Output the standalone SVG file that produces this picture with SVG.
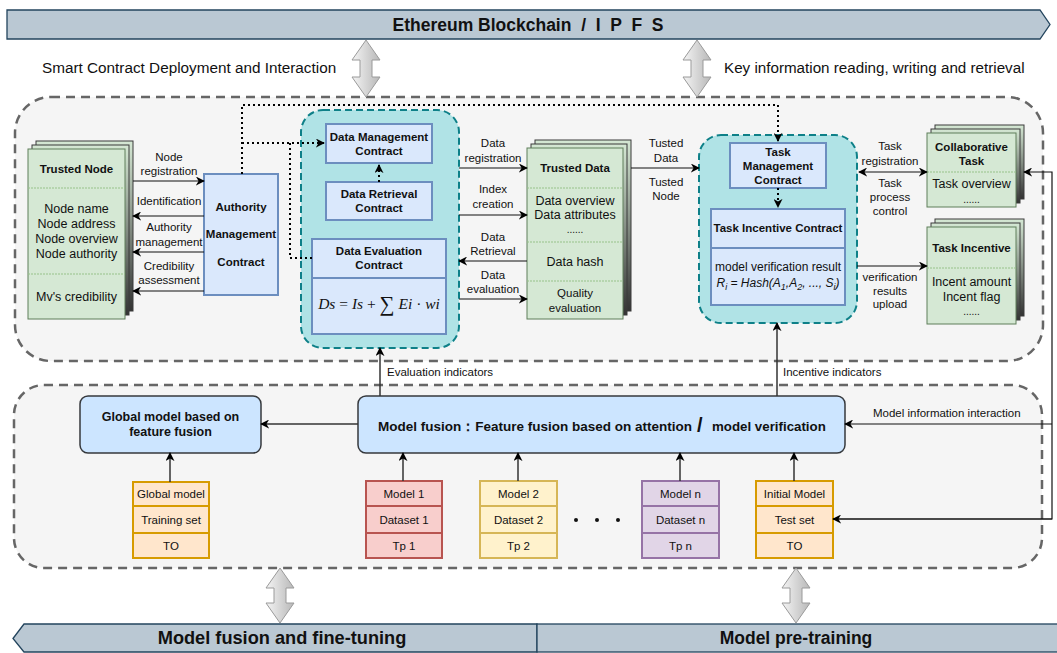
<svg xmlns="http://www.w3.org/2000/svg" width="1057" height="653" viewBox="0 0 1057 653">
<defs>
  <linearGradient id="gArrow" x1="0" y1="0" x2="1" y2="0">
    <stop offset="0" stop-color="#f4f4f4"/>
    <stop offset="1" stop-color="#b8b8b8"/>
  </linearGradient>
  <linearGradient id="gStack" x1="0" y1="0" x2="0" y2="1">
    <stop offset="0" stop-color="#d5e8d4"/>
    <stop offset="1" stop-color="#333333"/>
  </linearGradient>
  <marker id="ah" viewBox="0 0 10 10" refX="9" refY="5" markerWidth="9" markerHeight="9" markerUnits="userSpaceOnUse" orient="auto">
    <path d="M0,0 L10,5 L0,10 L3,5 z" fill="#000"/>
  </marker>
  <marker id="ahs" viewBox="0 0 10 10" refX="1" refY="5" markerWidth="9" markerHeight="9" markerUnits="userSpaceOnUse" orient="auto">
    <path d="M10,0 L0,5 L10,10 L7,5 z" fill="#000"/>
  </marker>
</defs>
<style>
  text { font-family: "Liberation Sans", Arial, sans-serif; fill: #111; }
  .lbl { font-size: 11.5px; text-anchor: middle; }
  .lbll { font-size: 11.5px; }
  .bold { font-weight: bold; }
  .body { font-size: 12.5px; text-anchor: middle; }
  .hdr { font-size: 11.5px; font-weight: bold; text-anchor: middle; }
  .banner { fill: #bac8d3; stroke: #23445d; stroke-width: 1.3; }
  .btext { font-size: 17.5px; font-weight: bold; text-anchor: middle; }
  .dbl { fill: url(#gArrow); stroke: #9a9a9a; stroke-width: 1; }
  .zone { fill: #f5f5f5; stroke: #666; stroke-width: 2.5; stroke-dasharray: 9 6; }
  .teal { fill: #b0e3e6; stroke: #0e8088; stroke-width: 2; stroke-dasharray: 7 4; }
  .ctr { fill: #dae8fc; stroke: #6c8ebf; stroke-width: 2; }
  .back { fill: url(#gStack); stroke: #3a3a3a; stroke-width: 1; }
  .front { fill: #d5e8d4; stroke: #5f7f5a; stroke-width: 1; }
  .div { stroke: #97c28a; stroke-width: 1; stroke-dasharray: 2 1; }
  .conn { fill: none; stroke: #111; stroke-width: 1.2; }
  .conn2 { fill: none; stroke: #333; stroke-width: 1.5; }
  .dot { fill: none; stroke: #000; stroke-width: 2; stroke-dasharray: 2 3; }
  .mbox { fill: #cce5ff; stroke: #36393d; stroke-width: 1.5; }
  .orange { fill: #ffe6cc; stroke: #d79b00; stroke-width: 2; }
  .red { fill: #f8cecc; stroke: #b85450; stroke-width: 2; }
  .yellow { fill: #fff2cc; stroke: #d6b656; stroke-width: 2; }
  .purple { fill: #e1d5e7; stroke: #9673a6; stroke-width: 2; }
  .cell { font-size: 11.5px; text-anchor: middle; }
</style>

<rect width="1057" height="653" fill="#ffffff"/>

<!-- Top banner -->
<g id="banner-top">
  <polygon class="banner" points="7,10 1040,10 1050,24.5 1040,39 7,39"/>
  <text class="btext" x="528" y="31" xml:space="preserve">Ethereum Blockchain  /  I  P  F  S</text>
</g>

<!-- Layer zones -->
<rect id="zone-chain" class="zone" x="15" y="97" width="1028" height="264" rx="36"/>
<rect id="zone-model" class="zone" x="14" y="385" width="1028" height="183" rx="30"/>

<!-- Block arrows between layers -->
<g id="block-arrows">
  <polygon class="dbl" points="366,40 380,60 372,60 372,77 380,77 366,97 352,77 360,77 360,60 352,60"/>
  <polygon class="dbl" points="697,40 711,60 703,60 703,77 711,77 697,97 683,77 691,77 691,60 683,60"/>
  <polygon class="dbl" points="280,568 294,588 286,588 286,603 294,603 280,623 266,603 274,603 274,588 266,588"/>
  <polygon class="dbl" points="796,568 810,588 802,588 802,603 810,603 796,623 782,603 790,603 790,588 782,588"/>
</g>
<text x="42" y="73" style="font-size:15.3px">Smart Contract Deployment and Interaction</text>
<text x="724" y="73" style="font-size:15.2px">Key information reading, writing and retrieval</text>

<!-- Bottom banner -->
<g id="banner-bottom">
  <polygon class="banner" points="13,638.5 24,624 537,624 537,652 24,652"/>
  <rect class="banner" x="537" y="624" width="530" height="28"/>
  <text class="btext" x="282" y="644" style="font-size:18.2px">Model fusion and fine-tuning</text>
  <text class="btext" x="796" y="644">Model pre-training</text>
</g>

<!-- Trusted Node -->
<g id="trusted-node">
  <rect class="back" x="36" y="141" width="97" height="170"/>
  <rect class="back" x="32" y="145" width="97" height="170"/>
  <rect class="front" x="28" y="149" width="97" height="170"/>
  <line class="div" x1="28" y1="188" x2="125" y2="188"/>
  <line class="div" x1="28" y1="274" x2="125" y2="274"/>
  <text class="hdr" x="76.5" y="173">Trusted Node</text>
  <text class="body" x="76.5" y="213">Node name</text>
  <text class="body" x="76.5" y="228">Node address</text>
  <text class="body" x="76.5" y="243">Node overview</text>
  <text class="body" x="76.5" y="258">Node authority</text>
  <text class="body" x="76.5" y="301">Mv's credibility</text>
</g>

<!-- Authority Management Contract -->
<g id="authority-contract">
  <rect class="ctr" x="204" y="174" width="74" height="121"/>
  <text class="hdr" x="241" y="211">Authority</text>
  <text class="hdr" x="241" y="238">Management</text>
  <text class="hdr" x="241" y="266">Contract</text>
</g>

<!-- Data contracts cluster -->
<g id="data-cluster">
  <rect class="teal" x="301" y="110" width="158" height="238" rx="22"/>
</g>
<g id="data-management">
  <rect class="ctr" x="326" y="124" width="106" height="39"/>
  <text class="hdr" x="379" y="141">Data Management</text>
  <text class="hdr" x="379" y="155">Contract</text>
</g>
<g id="data-retrieval">
  <rect class="ctr" x="326" y="182" width="106" height="38"/>
  <text class="hdr" x="379" y="198">Data Retrieval</text>
  <text class="hdr" x="379" y="212">Contract</text>
</g>
<g id="data-evaluation">
  <rect class="ctr" x="312" y="239" width="134" height="95"/>
  <line x1="312" y1="278" x2="446" y2="278" stroke="#6c8ebf" stroke-width="2"/>
  <text class="hdr" x="379" y="255">Data Evaluation</text>
  <text class="hdr" x="379" y="269">Contract</text>
  <text x="379" y="309" text-anchor="middle" style="font-family:'Liberation Serif','DejaVu Serif',serif;font-size:15.5px"><tspan font-style="italic">Ds</tspan> = <tspan font-style="italic">Is</tspan> + <tspan font-size="21px" dy="2">∑</tspan><tspan dy="-2" font-style="italic"> Ei</tspan> · <tspan font-style="italic">wi</tspan></text>
</g>

<!-- Trusted Data -->
<g id="trusted-data">
  <rect class="back" x="535" y="140" width="96" height="171"/>
  <rect class="back" x="531" y="144" width="96" height="171"/>
  <rect class="front" x="527" y="148" width="96" height="171"/>
  <line class="div" x1="527" y1="188" x2="623" y2="188"/>
  <line class="div" x1="527" y1="242" x2="623" y2="242"/>
  <line class="div" x1="527" y1="281" x2="623" y2="281"/>
  <text class="hdr" x="575" y="172">Trusted Data</text>
  <text class="body" x="575" y="205">Data overview</text>
  <text class="body" x="575" y="219">Data attributes</text>
  <text class="body" x="575" y="233" style="font-size:10px">......</text>
  <text class="body" x="575" y="266">Data hash</text>
  <text class="cell" x="575" y="297">Quality</text>
  <text class="cell" x="575" y="312">evaluation</text>
</g>

<!-- Task contracts cluster -->
<g id="task-cluster">
  <rect class="teal" x="699" y="135" width="158" height="188" rx="22"/>
</g>
<g id="task-management">
  <rect class="ctr" x="730" y="143" width="96" height="45"/>
  <text class="hdr" x="778" y="156">Task</text>
  <text class="hdr" x="778" y="170">Management</text>
  <text class="hdr" x="778" y="184">Contract</text>
</g>
<g id="task-incentive-contract">
  <rect class="ctr" x="711" y="209" width="134" height="96"/>
  <line x1="711" y1="248" x2="845" y2="248" stroke="#6c8ebf" stroke-width="2"/>
  <text class="hdr" x="778" y="232">Task Incentive Contract</text>
  <text class="cell" x="778" y="271" style="font-size:12px">model verification result</text>
  <text class="cell" x="778" y="287" style="font-size:12px;font-style:italic">R<tspan font-size="9" dy="3">i</tspan><tspan dy="-3"> = Hash(A</tspan><tspan font-size="9" dy="3">1</tspan><tspan dy="-3">,A</tspan><tspan font-size="9" dy="3">2</tspan><tspan dy="-3">, ..., S</tspan><tspan font-size="9" dy="3">i</tspan><tspan dy="-3">)</tspan></text>
</g>

<!-- Collaborative Task -->
<g id="collaborative-task">
  <rect class="back" x="935" y="125" width="89" height="74"/>
  <rect class="back" x="931" y="129" width="89" height="74"/>
  <rect class="front" x="927" y="133" width="89" height="74"/>
  <line class="div" x1="927" y1="172" x2="1016" y2="172"/>
  <text class="hdr" x="971.5" y="151">Collaborative</text>
  <text class="hdr" x="971.5" y="165">Task</text>
  <text class="body" x="971.5" y="188">Task overview</text>
  <text class="body" x="971.5" y="203" style="font-size:10px">......</text>
</g>

<!-- Task Incentive -->
<g id="task-incentive">
  <rect class="back" x="935" y="219" width="89" height="97"/>
  <rect class="back" x="931" y="223" width="89" height="97"/>
  <rect class="front" x="927" y="227" width="89" height="97"/>
  <line class="div" x1="927" y1="268" x2="1016" y2="268"/>
  <text class="hdr" x="971.5" y="252">Task Incentive</text>
  <text class="body" x="971.5" y="286">Incent amount</text>
  <text class="body" x="971.5" y="301">Incent flag</text>
  <text class="body" x="971.5" y="315" style="font-size:10px">......</text>
</g>

<!-- Model layer -->
<g id="global-model">
  <rect class="mbox" x="80" y="396" width="181" height="57" rx="8"/>
  <text class="hdr" x="170.5" y="421" style="font-size:12.5px">Global model based on</text>
  <text class="hdr" x="170.5" y="436" style="font-size:12.5px">feature fusion</text>
</g>
<g id="model-fusion">
  <rect class="mbox" x="358" y="396" width="487" height="57" rx="8"/>
  <text x="378" y="431" class="bold" style="font-size:13.5px">Model fusion：Feature fusion based on attention</text>
  <text x="697" y="432" class="bold" style="font-size:20px">/</text>
  <text x="712" y="431" class="bold" style="font-size:13.3px">model verification</text>
</g>

<g id="stack-global">
  <rect class="orange" x="133" y="482" width="76" height="24"/>
  <rect class="orange" x="133" y="506" width="76" height="27"/>
  <rect class="orange" x="133" y="533" width="76" height="25"/>
  <text class="cell" x="171" y="498">Global model</text>
  <text class="cell" x="171" y="524">Training set</text>
  <text class="cell" x="171" y="550">TO</text>
</g>
<g id="stack-1">
  <rect class="red" x="366" y="481" width="76" height="25"/>
  <rect class="red" x="366" y="506" width="76" height="27"/>
  <rect class="red" x="366" y="533" width="76" height="25"/>
  <text class="cell" x="404" y="498">Model 1</text>
  <text class="cell" x="404" y="524">Dataset 1</text>
  <text class="cell" x="404" y="550">Tp 1</text>
</g>
<g id="stack-2">
  <rect class="yellow" x="480" y="481" width="77" height="25"/>
  <rect class="yellow" x="480" y="506" width="77" height="27"/>
  <rect class="yellow" x="480" y="533" width="77" height="25"/>
  <text class="cell" x="518.5" y="498">Model 2</text>
  <text class="cell" x="518.5" y="524">Dataset 2</text>
  <text class="cell" x="518.5" y="550">Tp 2</text>
</g>
<g id="ellipsis">
  <circle cx="576" cy="520" r="2" fill="#111"/>
  <circle cx="597" cy="520" r="2" fill="#111"/>
  <circle cx="618" cy="520" r="2" fill="#111"/>
</g>
<g id="stack-n">
  <rect class="purple" x="642" y="481" width="77" height="25"/>
  <rect class="purple" x="642" y="506" width="77" height="27"/>
  <rect class="purple" x="642" y="533" width="77" height="25"/>
  <text class="cell" x="680.5" y="498">Model n</text>
  <text class="cell" x="680.5" y="524">Dataset n</text>
  <text class="cell" x="680.5" y="550">Tp n</text>
</g>
<g id="stack-initial">
  <rect class="orange" x="756" y="481" width="77" height="25"/>
  <rect class="orange" x="756" y="506" width="77" height="27"/>
  <rect class="orange" x="756" y="533" width="77" height="25"/>
  <text class="cell" x="794.5" y="498">Initial Model</text>
  <text class="cell" x="794.5" y="524">Test set</text>
  <text class="cell" x="794.5" y="550">TO</text>
</g>

<!-- Connectors -->
<g id="connectors">
  <!-- trusted node / authority contract -->
  <line class="conn" x1="133" y1="181" x2="204" y2="181" marker-end="url(#ah)"/>
  <line class="conn" x1="204" y1="216" x2="133" y2="216" marker-end="url(#ah)"/>
  <line class="conn" x1="204" y1="252" x2="133" y2="252" marker-end="url(#ah)"/>
  <line class="conn" x1="204" y1="291" x2="133" y2="291" marker-end="url(#ah)"/>

  <!-- dotted contract calls -->
  <polyline class="dot" points="242,174 242,105 778,105 778,141" marker-end="url(#ah)"/>
  <polyline class="dot" points="242,143 324,143" marker-end="url(#ah)"/>
  <polyline class="dot" points="312,258 290,258 290,143"/>
  <line class="dot" x1="379" y1="182" x2="379" y2="165" marker-end="url(#ah)"/>
  <line class="dot" x1="778" y1="188" x2="778" y2="207" marker-end="url(#ah)"/>

  <!-- data cluster / trusted data -->
  <line class="conn" x1="459" y1="168" x2="527" y2="168" marker-end="url(#ah)"/>
  <line class="conn" x1="459" y1="215" x2="527" y2="215" marker-end="url(#ah)"/>
  <line class="conn" x1="527" y1="261" x2="459" y2="261" marker-end="url(#ah)"/>
  <line class="conn" x1="459" y1="299" x2="527" y2="299" marker-end="url(#ah)"/>

  <!-- trusted data / task cluster -->
  <line class="conn" x1="631" y1="168" x2="699" y2="168" marker-end="url(#ah)"/>

  <!-- task cluster / right stacks -->
  <line class="conn" x1="859" y1="172" x2="927" y2="172" marker-start="url(#ahs)" marker-end="url(#ah)"/>
  <line class="conn" x1="857" y1="266" x2="927" y2="266" marker-end="url(#ah)"/>

  <!-- model information loop -->
  <polyline class="conn" points="833,519 1052,519 1052,172 1024,172" marker-end="url(#ah)"/>
  <polyline class="conn" points="833,519 1052,519" marker-start="url(#ahs)"/>
  <line class="conn" x1="1052" y1="424" x2="845" y2="424" marker-end="url(#ah)"/>

  <!-- indicators -->
  <line class="conn2" x1="380" y1="396" x2="380" y2="348" marker-end="url(#ah)"/>
  <line class="conn2" x1="777" y1="396" x2="777" y2="323" marker-end="url(#ah)"/>

  <!-- model layer -->
  <line class="conn2" x1="358" y1="424" x2="261" y2="424" marker-end="url(#ah)"/>
  <line class="conn2" x1="170" y1="482" x2="170" y2="453" marker-end="url(#ah)"/>
  <line class="conn2" x1="403" y1="481" x2="403" y2="453" marker-end="url(#ah)"/>
  <line class="conn2" x1="518" y1="481" x2="518" y2="453" marker-end="url(#ah)"/>
  <line class="conn2" x1="680" y1="481" x2="680" y2="453" marker-end="url(#ah)"/>
  <line class="conn2" x1="794" y1="481" x2="794" y2="453" marker-end="url(#ah)"/>
</g>

<!-- Connector labels -->
<g id="connector-labels">
  <text class="lbl" x="169" y="161">Node</text>
  <text class="lbl" x="169" y="175">registration</text>
  <text class="lbl" x="169" y="205">Identification</text>
  <text class="lbl" x="169" y="231">Authority</text>
  <text class="lbl" x="169" y="246">management</text>
  <text class="lbl" x="169" y="270">Credibility</text>
  <text class="lbl" x="169" y="284">assessment</text>

  <text class="lbl" x="493" y="147">Data</text>
  <text class="lbl" x="493" y="162">registration</text>
  <text class="lbl" x="493" y="193">Index</text>
  <text class="lbl" x="493" y="208">creation</text>
  <text class="lbl" x="493" y="241">Data</text>
  <text class="lbl" x="493" y="255">Retrieval</text>
  <text class="lbl" x="493" y="279">Data</text>
  <text class="lbl" x="493" y="293">evaluation</text>

  <text class="lbl" x="666" y="147">Tusted</text>
  <text class="lbl" x="666" y="162">Data</text>
  <text class="lbl" x="666" y="186">Tusted</text>
  <text class="lbl" x="666" y="200">Node</text>

  <text class="lbl" x="890" y="150">Task</text>
  <text class="lbl" x="890" y="165">registration</text>
  <text class="lbl" x="890" y="187">Task</text>
  <text class="lbl" x="890" y="201">process</text>
  <text class="lbl" x="890" y="215">control</text>
  <text class="lbl" x="890" y="281">verification</text>
  <text class="lbl" x="890" y="295">results</text>
  <text class="lbl" x="890" y="308">upload</text>

  <text class="lbll" x="387" y="376">Evaluation indicators</text>
  <text class="lbll" x="783" y="376">Incentive indicators</text>
  <text class="lbll" x="873" y="417">Model information interaction</text>
</g>
</svg>
